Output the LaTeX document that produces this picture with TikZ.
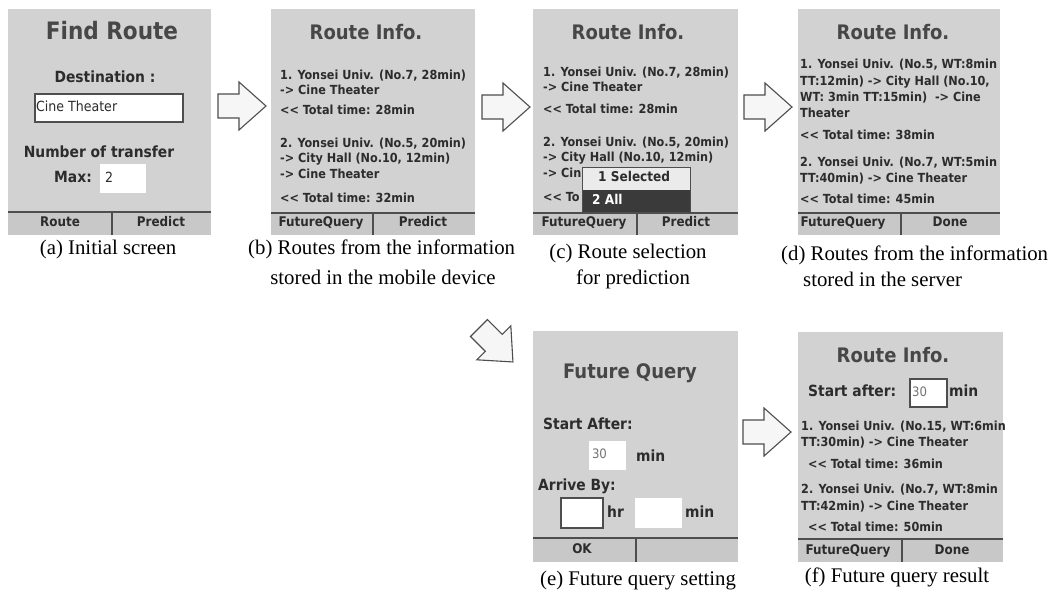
\documentclass[tikz,border=0pt]{standalone}
\usepackage{fontspec}
\setmainfont{Liberation Serif}
\IfFontExistsTF{DejaVu Sans Condensed}{\newfontfamily\scrf{DejaVu Sans Condensed}}{\newfontfamily\scrf[FakeStretch=0.88]{DejaVu Sans}}
\definecolor{scrbg}{HTML}{D2D2D2}
\definecolor{barbg}{HTML}{C8C8C8}
\definecolor{txt}{HTML}{2C2C2C}
\definecolor{ttl}{HTML}{474747}
\definecolor{lnc}{HTML}{4E4E4E}
\definecolor{arrfill}{HTML}{F6F6F6}
\definecolor{popdark}{HTML}{3A3A3A}
\definecolor{poplight}{HTML}{EBEBEB}
\tikzset{
  body/.style={font=\scrf\bfseries\fontsize{12.5}{14}\selectfont, text=txt, inner sep=0pt, anchor=west, text height=6.5pt, text depth=0pt},
  lbl/.style={font=\scrf\bfseries\fontsize{15.4}{17}\selectfont, text=txt, inner sep=0pt, text height=8pt, text depth=0pt},
  ttlst/.style={font=\scrf\bfseries\fontsize{20}{22}\selectfont, text=ttl, inner sep=0pt},
  btn/.style={font=\scrf\bfseries\fontsize{13.3}{15}\selectfont, text=txt, inner sep=0pt, text height=6.5pt, text depth=0pt},
  entry/.style={font=\scrf\fontsize{14}{16}\selectfont, text=txt, inner sep=0pt, anchor=west, text height=7pt, text depth=0pt},
  grayentry/.style={font=\scrf\fontsize{13}{15}\selectfont, text=black!55, inner sep=0pt, anchor=west, text height=6.5pt, text depth=0pt},
  capt/.style={font=\fontsize{20.8}{25}\selectfont, text=black, inner sep=0pt, text height=10pt, text depth=0pt},
  field/.style={draw=lnc, line width=1.1pt, fill=white, inner sep=0pt},
  wfield/.style={fill=white, inner sep=0pt},
  barline/.style={draw=lnc, line width=1.2pt},
  arrowstyle/.style={draw=lnc, line width=1.1pt, fill=arrfill, line join=miter},
  blockarrow/.pic={\path[arrowstyle] (0,-12) -- (21,-12) -- (21,-24) -- (48,0) -- (21,24) -- (21,12) -- (0,12) -- cycle;}
}
\begin{document}
\begin{tikzpicture}[x=1pt,y=-1pt]
\useasboundingbox (0,0) rectangle (1054,590);
\fill[white] (0,0) rectangle (1054,590);

% ---------- screen (a)
\fill[scrbg] (8,9) rectangle (211,235);
\fill[barbg] (8,212) rectangle (211,235);
\draw[barline] (8,212) -- (211,212);
\draw[barline] (112,212) -- (112,235);
\node[ttlst, font=\scrf\bfseries\fontsize{24}{26}\selectfont] (aT) at (112,31) {Find Route};
\node[lbl] (aD) at (105,78) {Destination :};
\node[field, minimum width=148pt, minimum height=28pt] (aBox) at (109,108) {};
\node[entry] (aBoxT) at ([xshift=1.5pt]aBox.west) {Cine Theater};
\node[lbl] (aN) at (99,153) {Number of transfer};
\node[lbl, anchor=west] (aM) at (54,178) {Max:};
\node[wfield, minimum width=46pt, minimum height=29pt] (aMaxBox) at (123,178.5) {};
\node[entry] (aMaxT) at ([xshift=5pt]aMaxBox.west) {2};
\node[btn] (aB1) at (60,223.5) {Route};
\node[btn] (aB2) at (161,223.5) {Predict};
\node[capt] (aC) at (108,249) {(a) Initial screen};

% ---------- screen (b)
\fill[scrbg] (271,9) rectangle (475,235);
\fill[barbg] (271,213) rectangle (475,235);
\draw[barline] (271,213) -- (475,213);
\draw[barline] (373,213) -- (373,235);
\node[ttlst] (bT) at (366,32) {Route Info.};
\node[body] (b1) at (280,76) {1. Yonsei Univ. (No.7, 28min)};
\node[body] (b2) at (280,91) {-> Cine Theater};
\node[body] (b3) at (280,111) {<{}< Total time: 28min};
\node[body] (b4) at (280,144) {2. Yonsei Univ. (No.5, 20min)};
\node[body] (b5) at (280,159) {-> City Hall (No.10, 12min)};
\node[body] (b6) at (280,175) {-> Cine Theater};
\node[body] (b7) at (280,199) {<{}< Total time: 32min};
\node[btn] (bB1) at (321,223.5) {FutureQuery};
\node[btn] (bB2) at (423,223.5) {Predict};
\node[capt, anchor=west] (bC1) at (248,249) {(b) Routes from the information};
\node[capt] (bC2) at (383,279) {stored in the mobile device};

% ---------- screen (c)
\fill[scrbg] (533,9) rectangle (738,235);
\fill[barbg] (533,213) rectangle (738,235);
\draw[barline] (533,213) -- (738,213);
\draw[barline] (637,213) -- (637,235);
\node[ttlst] (cT) at (628,32) {Route Info.};
\node[body] (c1) at (543,73) {1. Yonsei Univ. (No.7, 28min)};
\node[body] (c2) at (543,88) {-> Cine Theater};
\node[body] (c3) at (543,110) {<{}< Total time: 28min};
\node[body] (c4) at (543,143) {2. Yonsei Univ. (No.5, 20min)};
\node[body] (c5) at (543,158) {-> City Hall (No.10, 12min)};
\node[body] (c6) at (543,174) {-> Cin};
\node[body] (c7) at (543,198) {<{}< To};
\fill[poplight] (582,167) rectangle (690,190);
\fill[popdark] (582,190) rectangle (690,212);
\draw[draw=lnc, line width=1pt] (582,212) -- (582,167) -- (690,167) -- (690,212);
\node[body, font=\scrf\bfseries\fontsize{13.5}{15}\selectfont] (cP1) at (598,178) {1 Selected};
\node[body, text=white, font=\scrf\bfseries\fontsize{13.5}{15}\selectfont] (cP2) at (592,201) {2 All};
\node[btn] (cB1) at (584,223.5) {FutureQuery};
\node[btn] (cB2) at (686,223.5) {Predict};
\node[capt] (cC1) at (628,253) {(c) Route selection};
\node[capt] (cC2) at (633,279) {for prediction};

% ---------- screen (d)
\fill[scrbg] (798,9) rectangle (1000,235);
\fill[barbg] (798,213) rectangle (1000,235);
\draw[barline] (798,213) -- (1000,213);
\draw[barline] (901,213) -- (901,235);
\node[ttlst] (dT) at (893,32) {Route Info.};
\node[body] (d1) at (800,65) {1. Yonsei Univ. (No.5, WT:8min};
\node[body] (d2) at (800,82) {TT:12min) -> City Hall (No.10,};
\node[body] (d3) at (800,98) {WT: 3min TT:15min) \ -> Cine};
\node[body] (d4) at (800,114) {Theater};
\node[body] (d5) at (800,136) {<{}< Total time: 38min};
\node[body] (d6) at (800,163) {2. Yonsei Univ. (No.7, WT:5min};
\node[body] (d7) at (800,179) {TT:40min) -> Cine Theater};
\node[body] (d8) at (800,200) {<{}< Total time: 45min};
\node[btn] (dB1) at (843,223.5) {FutureQuery};
\node[btn] (dB2) at (950,223.5) {Done};
\node[capt, anchor=west] (dC1) at (781,255) {(d) Routes from the information};
\node[capt, anchor=west] (dC2) at (803,281) {stored in the server};

% ---------- screen (e)
\fill[scrbg] (533,331) rectangle (738,562);
\fill[barbg] (533,538) rectangle (738,562);
\draw[barline] (533,538) -- (738,538);
\draw[barline] (636,538) -- (636,562);
\node[ttlst] (eT) at (630,373) {Future Query};
\node[lbl, anchor=west] (eS) at (543,425) {Start After:};
\node[wfield, minimum width=37pt, minimum height=29pt] (eBox1) at (607.5,455.5) {};
\node[grayentry] (eBox1T) at ([xshift=3pt]eBox1.west) {30};
\node[lbl, anchor=west] (eMin1) at (636,457) {min};
\node[lbl, anchor=west] (eA) at (538,486) {Arrive By:};
\node[field, minimum width=42pt, minimum height=30pt] (eBox2) at (582,513) {};
\node[lbl, anchor=west] (eHr) at (607,513) {hr};
\node[wfield, minimum width=47pt, minimum height=30pt] (eBox3) at (658.5,513) {};
\node[lbl, anchor=west] (eMin2) at (685,513) {min};
\node[btn] (eB1) at (582,550) {OK};
\node[capt] (eC) at (638,580) {(e) Future query setting};

% ---------- screen (f)
\fill[scrbg] (798,332) rectangle (1003,562);
\fill[barbg] (798,539) rectangle (1003,562);
\draw[barline] (798,539) -- (1003,539);
\draw[barline] (902,539) -- (902,562);
\node[ttlst] (fT) at (893,355) {Route Info.};
\node[lbl, anchor=west] (fS) at (808,392) {Start after:};
\node[field, minimum width=37pt, minimum height=28pt] (fBox) at (928.5,393) {};
\node[grayentry] (fBoxT) at ([xshift=2.5pt]fBox.west) {30};
\node[lbl, anchor=west] (fMin) at (949,392) {min};
\node[body] (f1) at (801,427) {1. Yonsei Univ. (No.15, WT:6min};
\node[body] (f2) at (801,443) {TT:30min) -> Cine Theater};
\node[body] (f3) at (808,465) {<{}< Total time: 36min};
\node[body] (f4) at (801,490) {2. Yonsei Univ. (No.7, WT:8min};
\node[body] (f5) at (801,507) {TT:42min) -> Cine Theater};
\node[body] (f6) at (808,528) {<{}< Total time: 50min};
\node[btn] (fB1) at (848,551) {FutureQuery};
\node[btn] (fB2) at (952,551) {Done};
\node[capt] (fC) at (897,577) {(f) Future query result};

% ---------- block arrows
\pic at (218,106) {blockarrow};
\pic at (482,107) {blockarrow};
\pic at (744,107) {blockarrow};
\pic[rotate=-45] at (479,328) {blockarrow};
\pic at (743,432) {blockarrow};
\end{tikzpicture}
\end{document}
